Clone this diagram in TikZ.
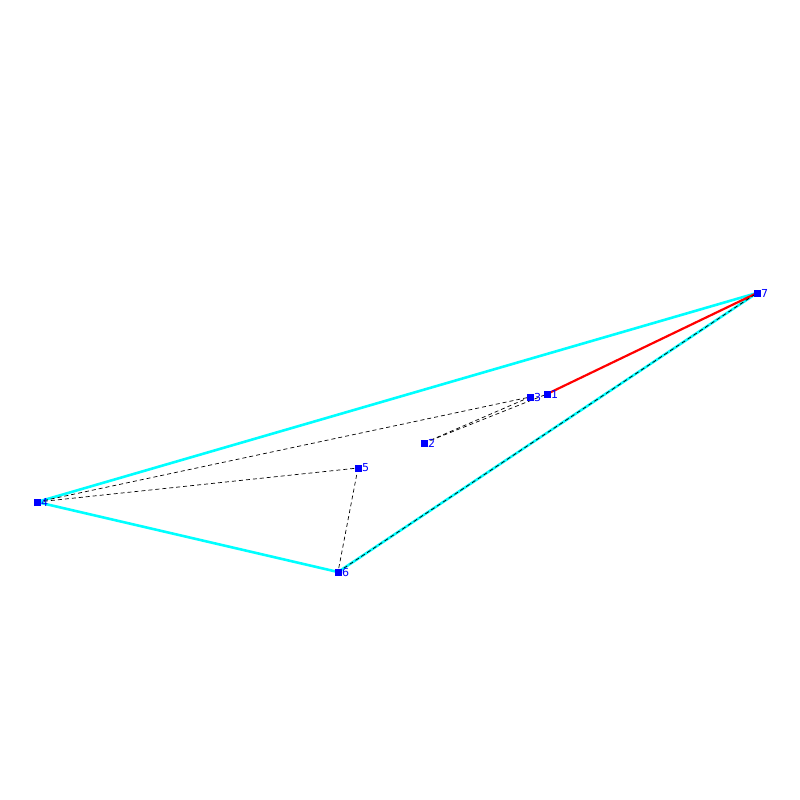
\documentclass[tikz,border=0pt]{standalone}
\usepackage{fontspec}
\setmainfont{DejaVu Sans}
\definecolor{hullcyan}{RGB}{0,255,255}
\definecolor{ptblue}{RGB}{0,0,255}
\definecolor{edgered}{RGB}{255,0,0}
\begin{document}
\begin{tikzpicture}[x=1pt,y=-1pt,
  pt/.style={fill=ptblue,minimum size=7pt,inner sep=0pt,outer sep=0pt},
  lab/.style={text=ptblue,font=\fontsize{11}{13}\selectfont,anchor=west,inner sep=0pt},
  hull/.style={hullcyan,line width=2.6pt},
  red edge/.style={edgered,line width=2.2pt},
  dash edge/.style={black,line width=0.7pt,dash pattern=on 4pt off 3pt}]
\useasboundingbox (0,0) rectangle (800,800);
\node[pt] (p1) at (547,394) {};
\node[pt] (p2) at (424,443) {};
\node[pt] (p3) at (530,397) {};
\node[pt] (p4) at (37,502) {};
\node[pt] (p5) at (358,468) {};
\node[pt] (p6) at (338,572) {};
\node[pt] (p7) at (757,293) {};
\draw[hull] (p4.center) -- (p7.center);
\draw[hull] (p4.center) -- (p6.center);
\draw[hull] (p6.center) -- (p7.center);
\draw[red edge] (p1.center) -- (p7.center);
\draw[dash edge] (p4.center) -- (p3.center);
\draw[dash edge] (p4.center) -- (p5.center);
\draw[dash edge] (p5.center) -- (p6.center);
\draw[dash edge] (p2.center) -- (p3.center);
\draw[dash edge] (p2.center) -- (p1.center);
\draw[dash edge] (p6.center) -- (p7.center);
\foreach \i in {1,...,7} {
  \node[pt] at (p\i) {};
  \node[lab] at ([xshift=4pt]p\i.center) {\i};
}
\end{tikzpicture}
\end{document}
